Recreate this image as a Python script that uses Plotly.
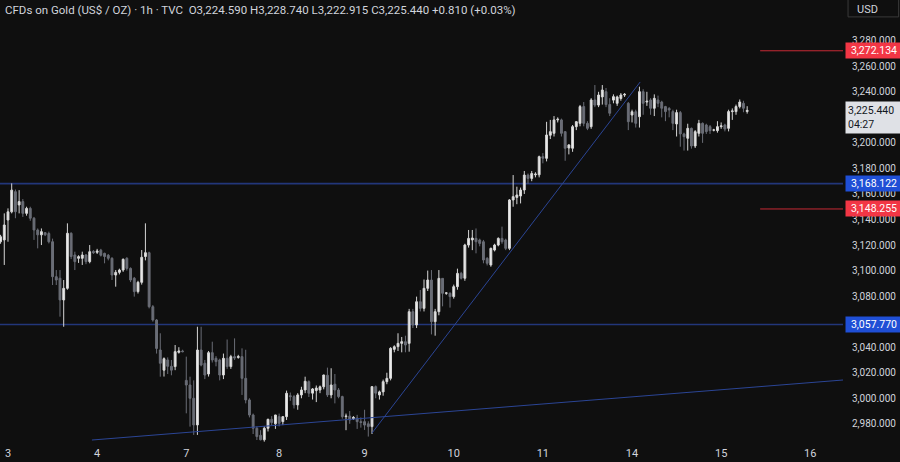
import plotly.graph_objects as go

# ---- data ----
opens = [3122.6,3124.0,3139.6,3146.0,3161.8,3151.4,3154.0,3144.8,3148.7,3141.0,
         3131.8,3128.0,3129.7,3129.0,3122.6,3095.2,3094.0,3077.0,3086.1,3129.2,
         3112.2,3109.6,3109.6,3112.2,3107.0,3115.0,3114.3,3116.0,3113.5,3112.0,
         3109.6,3096.5,3098.6,3100.4,3109.6,3101.7,3094.0,3083.5,3090.8,3111.0,
         3114.0,3071.7,3061.3,3037.8,3022.0,3030.0,3025.0,3024.8,3036.0,3037.0,
         3014.0,3010.4,3000.0,2979.1,3037.8,3027.4,3019.0,3035.7,3031.3,3030.0,
         3018.2,3031.3,3024.8,3032.6,3032.0,3032.6,3015.6,2998.7,2986.9,2976.5,
         2971.0,2967.5,2976.5,2983.5,2980.0,2985.6,2981.7,2985.6,3002.0,3001.3,
         2994.8,3002.6,3006.5,3013.0,3004.0,3006.0,3006.5,3009.0,3018.0,3002.6,
         3011.0,3006.5,3001.3,2985.6,2986.0,2984.0,2984.5,2981.7,2981.7,2980.0,
         2977.8,3009.1,3002.6,3005.0,3013.0,3015.6,3038.3,3040.4,3043.0,3044.3,
         3043.0,3067.8,3057.4,3075.6,3070.4,3086.1,3092.6,3060.0,3067.8,3093.9,
         3082.2,3082.2,3079.6,3087.4,3097.8,3094.0,3120.0,3124.0,3125.2,3123.9,
         3122.6,3109.6,3104.4,3116.1,3120.0,3125.2,3123.9,3117.4,3155.3,3157.3,
         3158.4,3163.1,3174.8,3172.2,3175.0,3175.0,3189.2,3187.9,3206.0,3207.5,
         3218.0,3218.0,3208.8,3196.0,3195.8,3212.7,3215.3,3228.4,3215.3,3212.7,
         3233.6,3229.6,3236.0,3240.1,3230.0,3233.5,3231.0,3234.8,3237.5,3231.0,
         3221.8,3224.4,3220.5,3240.1,3232.0,3233.6,3227.1,3233.6,3232.0,3228.4,
         3227.0,3224.5,3214.8,3223.7,3207.0,3203.6,3211.4,3197.6,3207.5,3215.3,
         3214.0,3212.7,3210.0,3209.6,3212.7,3214.0,3211.4,3224.5,3224.5,3228.4,
         3231.0,3224.59]
highs = [3128.0,3144.8,3148.7,3168.3,3163.5,3163.0,3156.0,3150.0,3150.0,3142.0,
         3133.0,3133.0,3130.0,3130.5,3125.0,3100.4,3100.4,3092.6,3137.0,3130.0,
         3114.8,3112.0,3114.8,3113.0,3120.0,3116.0,3117.0,3117.0,3114.0,3113.0,
         3110.5,3100.4,3101.5,3109.5,3110.5,3102.5,3095.0,3092.0,3116.1,3137.0,
         3114.8,3073.0,3062.0,3050.9,3032.0,3032.0,3030.0,3041.7,3040.0,3038.0,
         3032.6,3016.9,3014.0,3056.0,3056.0,3030.0,3037.0,3044.3,3033.0,3031.0,
         3035.0,3046.0,3034.0,3046.9,3034.0,3039.1,3038.0,3000.0,2988.0,2978.0,
         2975.0,2978.0,2984.0,2986.0,2987.0,2988.0,2986.0,3006.0,3004.5,3002.6,
         3004.0,3009.0,3016.9,3014.0,3008.0,3010.0,3010.0,3018.5,3024.0,3023.5,
         3019.0,3008.0,3002.0,2988.0,2990.0,2986.0,2987.0,2985.0,2991.0,2982.0,
         3009.5,3010.0,3006.0,3014.6,3020.0,3040.0,3041.5,3050.9,3048.0,3049.0,
         3070.0,3070.0,3079.6,3084.8,3093.0,3100.0,3100.4,3070.0,3100.4,3094.0,
         3083.0,3083.0,3089.0,3101.5,3099.0,3121.0,3131.8,3131.8,3133.0,3125.0,
         3124.0,3110.5,3118.0,3121.0,3126.0,3134.4,3125.0,3156.0,3174.8,3165.7,
         3165.0,3178.0,3176.0,3178.0,3177.0,3190.0,3192.0,3216.5,3218.0,3221.0,
         3220.0,3219.0,3209.0,3199.0,3214.0,3217.0,3229.7,3232.0,3217.0,3235.0,
         3245.3,3240.0,3245.3,3243.0,3235.0,3238.0,3237.0,3239.0,3239.0,3232.0,
         3226.0,3226.0,3244.0,3242.0,3240.0,3235.0,3238.0,3237.0,3233.0,3229.0,
         3228.0,3226.0,3226.0,3225.0,3208.0,3215.0,3212.0,3210.0,3218.0,3216.0,
         3215.0,3214.0,3211.0,3217.0,3216.0,3215.0,3226.0,3227.0,3230.0,3234.0,
         3233.0,3228.74]
lows = [3121.0,3104.4,3122.6,3144.8,3141.0,3144.8,3142.0,3143.0,3139.0,3124.0,
        3117.4,3120.0,3127.0,3121.3,3088.7,3088.7,3063.9,3056.0,3085.0,3109.0,
        3100.4,3106.0,3104.4,3105.0,3105.7,3113.0,3113.0,3111.0,3105.7,3108.0,
        3092.6,3087.4,3097.0,3099.0,3100.0,3091.0,3079.6,3082.0,3089.0,3108.0,
        3070.4,3060.0,3035.0,3016.9,3017.0,3019.0,3018.0,3022.0,3035.0,3036.0,
        2988.2,2977.8,2971.3,2971.3,3025.0,3015.0,3017.0,3028.0,3025.0,3014.0,
        3015.0,3023.0,3023.0,3030.0,3031.0,3002.6,2996.0,2985.0,2972.0,2967.3,
        2967.0,2966.0,2974.0,2979.0,2976.0,2978.0,2979.0,2983.0,2998.0,2992.0,
        2991.0,3000.0,3004.0,3001.0,2999.0,2997.0,3004.0,3007.0,3001.0,3000.0,
        2996.0,3000.0,2984.0,2975.0,2980.0,2983.0,2976.0,2977.0,2975.2,2970.0,
        2972.0,3000.0,2999.0,3002.0,3011.0,3014.0,3036.0,3037.0,3036.0,3036.0,
        3036.5,3055.0,3055.0,3068.0,3068.0,3084.0,3050.0,3049.0,3065.0,3072.0,
        3081.0,3071.0,3078.0,3085.0,3093.0,3092.0,3118.0,3116.0,3113.5,3119.0,
        3105.7,3104.0,3103.0,3115.0,3119.0,3121.0,3116.0,3116.0,3150.0,3152.0,
        3152.6,3160.0,3168.0,3170.0,3173.0,3173.0,3184.0,3185.5,3203.0,3205.0,
        3216.0,3205.0,3186.0,3191.0,3193.0,3210.0,3213.0,3213.0,3210.0,3211.0,
        3228.0,3228.0,3230.0,3228.0,3221.0,3231.0,3229.0,3233.0,3236.0,3210.0,
        3216.0,3212.0,3212.0,3222.0,3229.0,3222.0,3221.0,3228.0,3220.0,3217.0,
        3220.0,3210.0,3205.0,3197.0,3194.0,3194.0,3195.5,3196.0,3205.0,3200.0,
        3207.0,3207.0,3209.0,3208.0,3211.0,3209.0,3209.0,3218.0,3222.0,3227.0,
        3224.0,3222.915]
closes = [3126.5,3135.7,3146.0,3163.0,3146.1,3154.0,3144.8,3148.7,3141.0,3131.8,
          3128.0,3130.5,3128.0,3122.6,3095.2,3092.6,3077.0,3086.1,3129.2,3111.0,
          3107.0,3110.9,3112.2,3107.0,3114.8,3114.0,3115.3,3112.0,3111.0,3109.6,
          3096.5,3098.6,3100.4,3108.8,3101.7,3092.6,3083.5,3090.8,3110.4,3114.0,
          3071.7,3061.3,3039.0,3027.4,3031.0,3025.0,3022.0,3036.5,3037.0,3036.5,
          3010.4,3000.0,2979.1,3037.8,3026.0,3018.2,3035.7,3030.0,3028.7,3018.2,
          3031.3,3024.8,3032.6,3031.5,3032.6,3015.6,2998.7,2986.9,2976.5,2970.0,
          2967.5,2976.5,2983.5,2981.0,2986.9,2980.4,2985.6,3003.9,3001.3,2994.8,
          3002.6,3006.5,3013.3,3004.0,3007.3,3008.0,3009.0,3018.2,3002.6,3010.4,
          3006.5,3001.3,2985.6,2986.0,2983.0,2985.0,2981.7,2981.0,2979.0,2977.8,
          3009.1,3004.0,3005.0,3013.0,3015.6,3039.1,3040.4,3043.0,3044.3,3041.7,
          3067.8,3057.4,3075.6,3070.4,3086.1,3092.6,3060.0,3067.8,3093.9,3082.2,
          3082.5,3079.6,3087.4,3097.8,3094.0,3120.0,3125.2,3125.5,3122.6,3121.3,
          3108.3,3105.7,3117.4,3120.0,3125.2,3122.6,3117.4,3155.3,3157.9,3159.2,
          3163.1,3174.8,3172.2,3176.0,3175.5,3189.2,3188.0,3206.2,3208.8,3218.0,
          3218.5,3207.5,3195.8,3198.4,3212.7,3216.6,3228.4,3215.3,3211.4,3233.6,
          3229.6,3237.5,3241.4,3230.0,3223.2,3236.2,3236.0,3237.5,3238.0,3216.6,
          3224.4,3215.3,3240.1,3231.0,3232.6,3227.1,3234.9,3231.0,3227.1,3224.5,
          3225.8,3215.3,3223.7,3207.0,3204.9,3211.4,3197.6,3208.8,3215.3,3207.5,
          3208.8,3209.6,3210.1,3212.7,3213.3,3210.8,3224.5,3225.0,3228.4,3232.0,
          3227.1,3225.44]

day_labels = ["3", "4", "7", "8", "9", "10", "11", "14", "15", "16"]
day_first_bar = [2, 26, 50, 75, 98, 122, 146, 170, 194, 218]

price_ticks = [2980, 3000, 3020, 3040, 3060, 3080, 3100, 3120, 3140, 3160,
               3180, 3200, 3220, 3240, 3260, 3280]

blue_levels = [3168.122, 3057.770]
red_levels = [3272.134, 3148.255]
red_level_start_bar = 204.5

# trendlines: (bar index, price) endpoints
rising_trend_x = [100.0, 172.2]
rising_trend_y = [2972.8, 3247.7]
support_trend_x = [24.6, 226.8]
support_trend_y = [2967.3, 3014.3]

last_price = 3225.44
countdown = "04:27"
title_text = ("CFDs on Gold (US$ / OZ) · 1h · TVC\u00a0 O3,224.590 H3,228.740"
              " L3,222.915 C3,225.440 +0.810 (+0.03%)")

# ---- figure ----
BG = "#0f0f0f"
TXT = "#d1d4dc"
bars = list(range(len(opens)))

fig = go.Figure()

for lv in blue_levels:
    fig.add_shape(type="line", xref="paper", x0=0, x1=1, yref="y", y0=lv, y1=lv,
                  line=dict(color="#22367a", width=1.6), layer="below")
for lv in red_levels:
    fig.add_shape(type="line", xref="x", x0=red_level_start_bar, x1=230, yref="y", y0=lv, y1=lv,
                  line=dict(color="#c62a35", width=1), layer="below")

fig.add_trace(go.Scatter(x=rising_trend_x, y=rising_trend_y, mode="lines",
                         line=dict(color="#2b4595", width=1), hoverinfo="skip", showlegend=False))
fig.add_trace(go.Scatter(x=support_trend_x, y=support_trend_y, mode="lines",
                         line=dict(color="#2b4595", width=1), hoverinfo="skip", showlegend=False))

fig.add_trace(go.Candlestick(
    x=bars, open=opens, high=highs, low=lows, close=closes,
    increasing=dict(line=dict(color="#d6d6d6", width=1), fillcolor="#ededed"),
    decreasing=dict(line=dict(color="#6a6d76", width=1), fillcolor="#6a6d76"),
    whiskerwidth=0, showlegend=False, hoverinfo="skip"))

annotations = []
for lv in red_levels:
    annotations.append(dict(xref="paper", x=1.0, xanchor="left", yref="y", y=lv,
                            text=f"{lv:,.3f}", showarrow=False, bgcolor="#f23645",
                            font=dict(color="#ffffff", size=10.5, family="Roboto"),
                            width=54, align="center", borderpad=1, xshift=2))
for lv in blue_levels:
    annotations.append(dict(xref="paper", x=1.0, xanchor="left", yref="y", y=lv,
                            text=f"{lv:,.3f}", showarrow=False, bgcolor="#1f4fd6",
                            font=dict(color="#ffffff", size=10.5, family="Roboto"),
                            width=54, align="center", borderpad=1, xshift=2))
annotations.append(dict(xref="paper", x=1.0, xanchor="left", yref="y", y=last_price,
                        yanchor="top", yshift=9,
                        text=f"{last_price:,.3f}<br>{countdown}", showarrow=False,
                        bgcolor="#dfe1e6", font=dict(color="#131722", size=10.5, family="Roboto"),
                        width=54, align="left", borderpad=2, xshift=2))
annotations.append(dict(xref="paper", x=0, xanchor="left", yref="paper", y=1, yanchor="top",
                        xshift=3, yshift=-1, text=title_text, showarrow=False,
                        font=dict(color=TXT, size=11.5, family="Roboto")))
annotations.append(dict(xref="paper", x=1.0, xanchor="left", yref="paper", y=1, yanchor="top",
                        xshift=12, yshift=-1, text="USD", showarrow=False,
                        font=dict(color=TXT, size=11, family="Roboto")))

fig.add_shape(type="rect", xref="paper", yref="paper", x0=1.006, x1=1.066, y0=0.962, y1=1.01,
              line=dict(color="#3a3a3a", width=1), fillcolor=BG)

fig.update_layout(
    width=900, height=462,
    margin=dict(l=0, r=57, t=0, b=17),
    paper_bgcolor=BG, plot_bgcolor=BG,
    showlegend=False,
    annotations=annotations,
    boxgap=0.28,
    xaxis=dict(range=[-0.15, 226.8], showgrid=False, zeroline=False,
               rangeslider=dict(visible=False), automargin=False,
               tickmode="array", tickvals=day_first_bar, ticktext=day_labels,
               tickfont=dict(color=TXT, size=11, family="Roboto"),
               ticks="", showline=False),
    yaxis=dict(range=[2963.4, 3311.9], side="right", showgrid=False, zeroline=False,
               automargin=False,
               tickmode="array", tickvals=price_ticks, tickformat=",.3f",
               tickfont=dict(color=TXT, size=10, family="Roboto"),
               ticks="", showline=False, ticklabelstandoff=8),
)

fig.write_html("out.html", config={"displayModeBar": False},
               post_script="document.body.style.margin='0';document.body.style.background='#0f0f0f';")
